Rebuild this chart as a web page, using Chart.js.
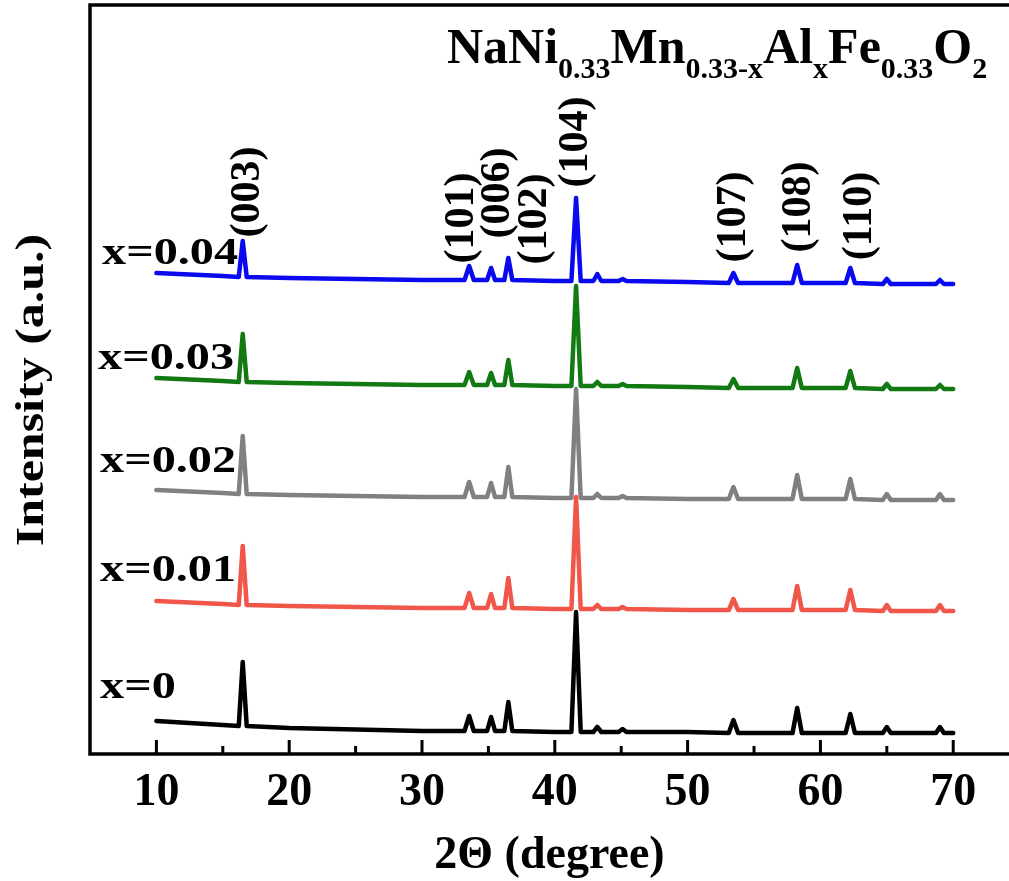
<!DOCTYPE html>
<html>
<head>
<meta charset="utf-8">
<script src="https://cdn.jsdelivr.net/npm/chart.js@4.4.1/dist/chart.umd.min.js"></script>
<style>
  html, body { margin: 0; padding: 0; background: #fff; }
  #wrap { width: 1009px; height: 881px; position: relative; }
</style>
</head>
<body>
<div id="wrap"><canvas id="xrd"></canvas></div>
<script>
// 2theta sample positions shared by all patterns
const twoTheta = [10, 15, 16.2, 16.5, 16.8, 20, 30, 33.2, 33.55, 33.9, 34.9, 35.2, 35.5, 36.2, 36.5, 36.8,
  40, 41.25, 41.6, 41.95, 42.9, 43.2, 43.5, 44.8, 45.1, 45.4, 50, 53.1, 53.45, 53.8, 57.9, 58.25, 58.6,
  61.9, 62.25, 62.6, 64.7, 65.0, 65.3, 68.7, 69.0, 69.3, 70];

// Stacked intensities (a.u., offset included)
const intX000 = [33, 29, 28, 92, 28, 26, 23, 23, 38, 23, 23, 37, 23, 23, 52, 23,
  22, 22, 142, 22, 22, 27, 22, 22, 25, 22, 22, 21, 34, 21, 21, 46, 21,
  21, 40, 21, 21, 27, 21, 21, 27, 21, 21];
const intX001 = [153, 150, 149, 208, 149, 148, 146, 146, 161, 146, 146, 160, 146, 146, 176, 146,
  145, 145, 257, 145, 145, 149, 145, 145, 147, 145, 144, 144, 155, 144, 144, 168, 144,
  144, 164, 144, 143, 149, 143, 143, 149, 143, 143];
const intX002 = [264, 261, 260, 318, 260, 259, 257, 257, 272, 257, 257, 271, 257, 257, 287, 257,
  256, 256, 365, 256, 256, 260, 256, 256, 258, 256, 255, 255, 267, 255, 255, 279, 255,
  255, 275, 255, 254, 260, 254, 254, 260, 254, 254];
const intX003 = [376, 373, 372, 420, 372, 371, 369, 369, 382, 369, 369, 381, 369, 369, 394, 369,
  368, 368, 468, 368, 368, 372, 368, 368, 370, 368, 367, 366, 375, 366, 366, 386, 366,
  366, 383, 366, 365, 370, 365, 365, 369, 365, 365];
const intX004 = [481, 478, 477, 513, 477, 476, 474, 474, 488, 474, 474, 486, 474, 474, 496, 474,
  473, 473, 556, 473, 473, 480, 473, 473, 475, 473, 472, 471, 481, 471, 471, 489, 471,
  471, 486, 471, 470, 475, 470, 470, 474, 470, 470];

const seriesNames = ["x=0", "x=0.01", "x=0.02", "x=0.03", "x=0.04"];
const seriesData = [intX000, intX001, intX002, intX003, intX004];
const seriesColors = ["#000000", "#f0564a", "#808080", "#137a13", "#0a0af0"];

// Axis ticks
const majorTicks = [10, 20, 30, 40, 50, 60, 70];
const minorTicks = [15, 25, 35, 45, 55, 65];

// Miller indices and where their labels sit (2theta of label centre)
const hklLabels = ["(003)", "(101)", "(006)", "(102)", "(104)", "(107)", "(108)", "(110)"];
const hklLabelAt = [16.9, 33.0, 35.7, 38.5, 41.6, 53.5, 58.4, 63.0];

// Layout of the text drawn by the plugin
const hklLabelY = [192, 218, 193, 219, 142, 217, 207, 216];
const seriesLabelPos = [[102, 254], [98, 359], [100, 462], [100, 571], [100, 688]].reverse();
const serif = "'Liberation Serif', 'Times New Roman', serif";

const datasets = seriesData.map((vals, i) => ({
  label: seriesNames[i],
  data: vals.map((v, j) => ({ x: twoTheta[j], y: v })),
  borderColor: seriesColors[i],
  borderWidth: 4.5,
  borderJoinStyle: "round",
  borderCapStyle: "round",
  pointRadius: 0,
  tension: 0,
  fill: false,
  order: seriesData.length - i,
}));

// Draw text, optionally rotated and stretched along its length
const drawText = (ctx, text, x, y, size, { rot = 0, stretch = 1, align = "left" } = {}) => {
  ctx.save();
  ctx.translate(x, y);
  ctx.rotate(rot);
  ctx.scale(stretch, 1);
  ctx.font = `bold ${size}px ${serif}`;
  ctx.textAlign = align;
  ctx.textBaseline = "middle";
  ctx.fillStyle = "#000";
  ctx.fillText(text, 0, 0);
  ctx.restore();
};

const decor = {
  id: "decor",
  afterDraw(chart) {
    const { ctx, chartArea: a, scales } = chart;
    const x = scales.x;
    ctx.save();

    // Frame: left, top and bottom (right side runs off the picture)
    ctx.strokeStyle = "#000";
    ctx.lineWidth = 3.5;
    ctx.beginPath();
    ctx.moveTo(chart.width, a.top);
    ctx.lineTo(a.left, a.top);
    ctx.lineTo(a.left, a.bottom);
    ctx.lineTo(chart.width, a.bottom);
    ctx.stroke();

    // Inward ticks
    ctx.lineWidth = 3;
    ctx.beginPath();
    majorTicks.forEach((v) => {
      const px = x.getPixelForValue(v);
      ctx.moveTo(px, a.bottom);
      ctx.lineTo(px, a.bottom - 14);
    });
    minorTicks.forEach((v) => {
      const px = x.getPixelForValue(v);
      ctx.moveTo(px, a.bottom);
      ctx.lineTo(px, a.bottom - 8);
    });
    ctx.stroke();

    // Y axis title
    drawText(ctx, "Intensity (a.u.)", 33, 390, 40, { rot: -Math.PI / 2, stretch: 1.25, align: "center" });

    // Series labels
    seriesNames.forEach((name, i) => {
      const [lx, ly] = seriesLabelPos[i];
      drawText(ctx, name, lx, ly, 38, { stretch: 1.27 });
    });

    // Peak labels
    hklLabels.forEach((t, i) => {
      drawText(ctx, t, x.getPixelForValue(hklLabelAt[i]), hklLabelY[i], 42, { rot: -Math.PI / 2, align: "center" });
    });

    // Formula with subscripts
    const parts = [["NaNi", 0], ["0.33", 1], ["Mn", 0], ["0.33-x", 1], ["Al", 0], ["x", 1],
      ["Fe", 0], ["0.33", 1], ["O", 0], ["2", 1]];
    let cx = 447;
    ctx.fillStyle = "#000";
    ctx.textBaseline = "alphabetic";
    ctx.textAlign = "left";
    parts.forEach(([t, sub]) => {
      ctx.font = `bold ${sub ? 30 : 50}px ${serif}`;
      ctx.fillText(t, cx, sub ? 78 : 63);
      cx += ctx.measureText(t).width;
    });

    ctx.restore();
  },
};

new Chart(document.getElementById("xrd"), {
  type: "line",
  data: { datasets },
  plugins: [decor],
  options: {
    responsive: true,
    maintainAspectRatio: false,
    animation: false,
    layout: { padding: { left: 90, top: 5, right: 0, bottom: 0 } },
    plugins: { legend: { display: false }, tooltip: { enabled: false } },
    scales: {
      x: {
        type: "linear",
        min: 5,
        max: 74.2,
        border: { display: false },
        grid: { display: false, drawTicks: false, tickLength: 0 },
        afterBuildTicks: (scale) => {
          scale.ticks = majorTicks.map((v) => ({ value: v }));
        },
        afterFit: (scale) => {
          scale.height = 127;
        },
        ticks: {
          color: "#000",
          padding: 12,
          maxRotation: 0,
          autoSkip: false,
          font: { family: serif, size: 46, weight: "bold" },
        },
        title: {
          display: true,
          text: "2Θ (degree)",
          color: "#000",
          padding: { top: 0, bottom: 0 },
          font: { family: serif, size: 46, weight: "bold", lineHeight: 1.1 },
        },
      },
      y: {
        type: "linear",
        display: false,
        min: 0,
        max: 749,
      },
    },
  },
});
</script>
</body>
</html>
